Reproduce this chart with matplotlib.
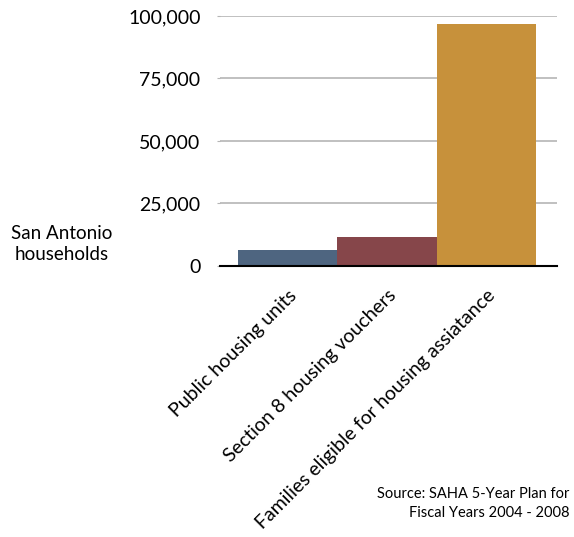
import matplotlib.pyplot as plt

categories = ['Public housing units', 'Section 8 housing vouchers',
              'Families eligible for housing assiatance']
households = [6400, 11600, 96800]
colors = ['#4e6580', '#86464a', '#c7913b']
ytick_vals = [0, 25000, 50000, 75000, 100000]

plt.rcParams['font.family'] = ['Lato', 'DejaVu Sans']

fig = plt.figure(figsize=(5.74, 5.37), dpi=100)
ax = fig.add_axes([0.3833, 0.5047, 0.5871, 0.4655])

x = range(len(categories))
ax.bar(x, households, width=1.0, color=colors, zorder=3)

ax.set_xlim(-0.682, 2.712)
ax.set_ylim(0, 100000)
ax.set_yticks(ytick_vals)
ax.set_yticklabels([f'{v:,}' for v in ytick_vals], fontsize=14)
ax.tick_params(axis='y', length=2, color='#b5b5b5', pad=12)
ax.yaxis.grid(True, color='#b5b5b5', linewidth=1.2, zorder=0)

# rotated category labels under the bars
ax.set_xticks(list(x))
ax.set_xticklabels(categories, rotation=45, ha='right', va='top',
                   rotation_mode='anchor', fontsize=14)
ax.tick_params(axis='x', length=0, pad=15)

for s in ['top', 'right', 'left']:
    ax.spines[s].set_visible(False)
ax.spines['bottom'].set_color('black')
ax.spines['bottom'].set_linewidth(1.5)
ax.spines['bottom'].set_zorder(4)

fig.text(0.108, 0.546, 'San Antonio\nhouseholds', ha='center', va='center',
         fontsize=13.5, linespacing=1.3)
fig.text(0.992, 0.062, 'Source: SAHA 5-Year Plan for\nFiscal Years 2004 - 2008',
         ha='right', va='center', fontsize=10.5, linespacing=1.45)

fig.savefig('out.png', dpi=100)
